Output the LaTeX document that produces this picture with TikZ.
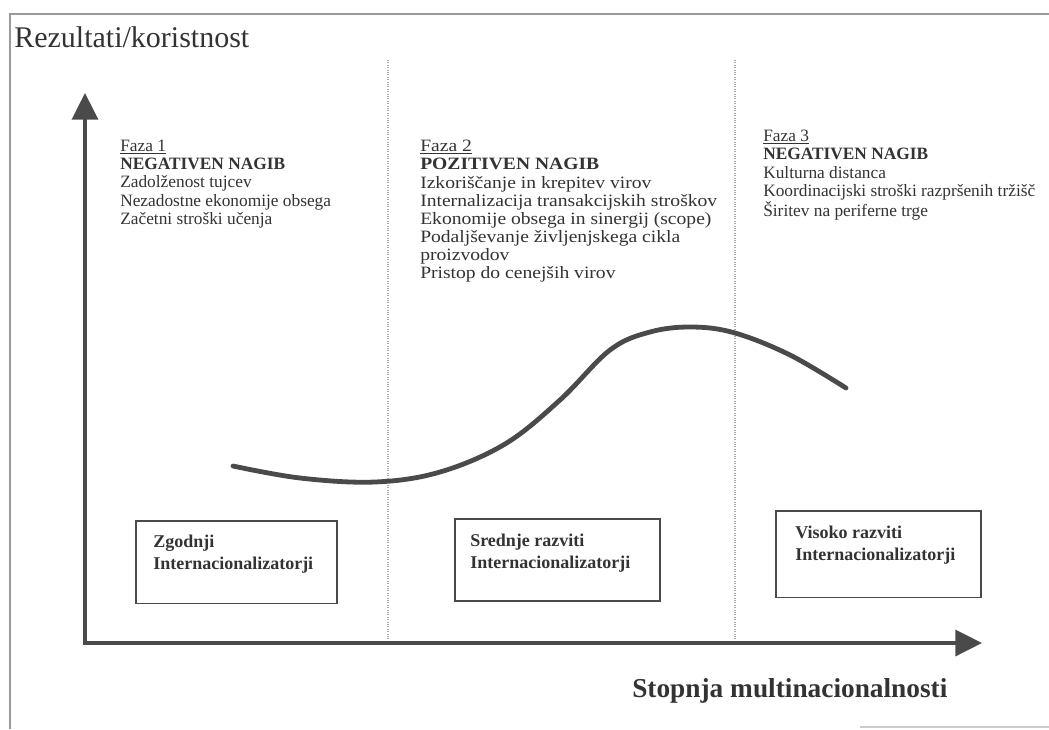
\documentclass[tikz,border=0pt]{standalone}
\usepackage{fontspec}
\setmainfont{Liberation Serif}
\usetikzlibrary{arrows.meta}
\definecolor{axisgray}{HTML}{4A4A4A}
\definecolor{framegray}{HTML}{9A9A9A}
\definecolor{dotgray}{HTML}{A8A8A8}
\definecolor{textgray}{HTML}{333333}
\newcommand{\fazaul}[1]{\setbox0\hbox{#1}\rlap{\rule[-1.3pt]{\wd0}{0.5pt}}\box0}
\tikzset{
  axisline/.style={line width=2.6pt, draw=axisgray, -{Triangle[length=20pt,width=19.5pt]}},
  frameline/.style={line width=1.3pt, draw=framegray},
  divider/.style={line width=0.8pt, draw=dotgray, densely dotted},
  curveline/.style={line width=3.6pt, draw=axisgray, line cap=round},
  phasetext/.style={anchor=north west, align=left, inner sep=0pt, text=textgray,
    font=\fontsize{13}{13.6}\selectfont},
  widephase/.style={phasetext, font=\addfontfeatures{FakeStretch=1.13}\fontsize{13}{13.6}\selectfont},
  groupbox/.style={draw=axisgray, line width=1.3pt, inner sep=0pt, anchor=north west},
  boxtext/.style={anchor=north west, align=left, inner sep=0pt, text=textgray,
    font=\bfseries\fontsize{13.5}{16}\selectfont},
}
\begin{document}
\begin{tikzpicture}[x=0.75pt,y=-0.75pt]
\useasboundingbox (0,0) rectangle (1049,729);
\fill[white] (0,0) rectangle (1049,729);
% frame
\coordinate (fTL) at (10,14);
\coordinate (fTR) at (1049,14);
\coordinate (fBL) at (10,729);
\coordinate (fB1) at (860,727);
\coordinate (fB2) at (1049,727);
\draw[frameline] (fTR) -- (fTL) -- (fBL);
\draw[frameline, draw=framegray!50] (fB1) -- (fB2);
% title of y axis
\node[anchor=base west, inner sep=0pt, text=textgray, font=\fontsize{22.5}{24}\selectfont] (ylab) at (14,47) {Rezultati/koristnost};
% dividers
\coordinate (d1t) at (388,60); \coordinate (d1b) at (388,643);
\coordinate (d2t) at (735,60); \coordinate (d2b) at (735,643);
\draw[divider] (d1t) -- (d1b);
\draw[divider] (d2t) -- (d2b);
% axes
\coordinate (O) at (85,643);
\coordinate (Ytip) at (85,93);
\coordinate (Xtip) at (982,643);
\draw[axisline] (O) -- (Ytip);
\draw[axisline] ([xshift=-1.3pt]O) -- (Xtip);
% x label
\node[anchor=base west, inner sep=0pt, text=textgray, font=\bfseries\fontsize{20.5}{22}\selectfont] (xlab) at (632,697) {Stopnja multinacionalnosti};
% phase texts
\node[phasetext] (f1) at (120,140) {\fazaul{Faza 1}\\\textbf{NEGATIVEN NAGIB}\\Zadolženost tujcev\\Nezadostne ekonomije obsega\\Začetni stroški učenja};
\node[widephase] (f2) at (420,140) {\fazaul{Faza 2}\\\textbf{POZITIVEN NAGIB}\\Izkoriščanje in krepitev virov\\Internalizacija transakcijskih stroškov\\Ekonomije obsega in sinergij (scope)\\Podaljševanje življenjskega cikla\\proizvodov\\Pristop do cenejših virov};
\node[phasetext] (f3) at (763,130) {\fazaul{Faza 3}\\\textbf{NEGATIVEN NAGIB}\\Kulturna distanca\\Koordinacijski stroški razpršenih tržišč\\Širitev na periferne trge};
% curve
\draw[curveline] plot[smooth, tension=0.6] coordinates {(233,466) (300,478) (375,482) (440,472) (505,444) (560,400) (610,350) (650,332) (692,327) (735,333) (790,355) (846,388)};
% boxes
\node[groupbox, minimum width=151pt, minimum height=62pt] (b1) at (135,520) {};
\node[groupbox, minimum width=154pt, minimum height=61.5pt] (b2) at (454,518) {};
\node[groupbox, minimum width=154pt, minimum height=65pt] (b3) at (775,510) {};
\node[boxtext] (t1) at (153,535) {Zgodnji\\Internacionalizatorji};
\node[boxtext] (t2) at (470,534) {Srednje razviti\\Internacionalizatorji};
\node[boxtext] (t3) at (795,526) {Visoko razviti\\Internacionalizatorji};
\end{tikzpicture}
\end{document}
